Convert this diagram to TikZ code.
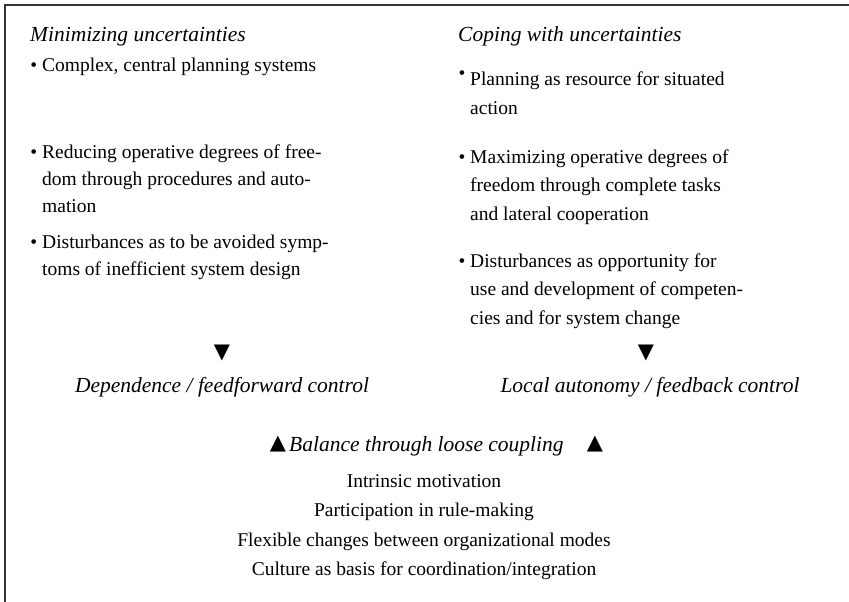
\documentclass[tikz,border=0pt]{standalone}
\usepackage{fontspec}
\setmainfont{Liberation Serif}
\newfontfamily\symfont{DejaVu Sans}
\begin{document}
\begin{tikzpicture}[x=1pt,y=-1pt,
  frame/.style={line width=2pt, draw=black!80},
  body/.style={inner sep=0pt, anchor=base west, align=left,
    font=\fontsize{19.5}{27}\selectfont},
  bodyr/.style={body, font=\fontsize{19.5}{28.5}\selectfont},
  head/.style={inner sep=0pt, anchor=base west,
    font=\fontsize{21.5}{26}\selectfont\itshape},
  outcome/.style={inner sep=0pt, anchor=base,
    font=\fontsize{21.5}{26}\selectfont\itshape},
  tri/.style={inner sep=0pt, anchor=center, font=\fontsize{21}{21}\symfont},
  factor/.style={inner sep=0pt, anchor=base,
    font=\fontsize{19.5}{29.5}\selectfont, align=center}]
\useasboundingbox (0,0) rectangle (849,602);

% open frame: top edge and left edge only
\coordinate (tl) at (5,5);
\coordinate (tr) at (849,5);
\coordinate (bl) at (5,602);
\draw[frame] (tr) -- (tl) -- (bl);

% left column (multi-line items are placed by the baseline of their last line)
\node[head] (lh) at (30,42) {Minimizing uncertainties};
\node[body] (l1) at (42,71) {\llap{\textbullet\ }Complex, central planning systems};
\node[body] (l2) at (42,212) {\llap{\textbullet\ }Reducing operative degrees of free-\\
  dom through procedures and auto-\\ mation};
\node[body] (l3) at (42,275) {\llap{\textbullet\ }Disturbances as to be avoided symp-\\
  toms of inefficient system design};

% right column
\node[head] (rh) at (458,42) {Coping with uncertainties};
\node[bodyr] (r1) at (470,114) {\llap{\raisebox{0.3em}{\textbullet}\ }Planning as resource for situated\\ action};
\node[bodyr] (r2) at (470,220) {\llap{\textbullet\ }Maximizing operative degrees of\\
  freedom through complete tasks\\ and lateral cooperation};
\node[bodyr] (r3) at (470,324) {\llap{\textbullet\ }Disturbances as opportunity for\\
  use and development of competen-\\ cies and for system change};

% consequences
\node[tri] (ld) at (222,353) {▼};
\node[tri] (rd) at (646,353) {▼};
\node[outcome] (lo) at (222,392) {Dependence / feedforward control};
\node[outcome] (ro) at (650,392) {Local autonomy / feedback control};

% balance
\node[tri] (bu1) at (278,444) {▲};
\node[head] (bal) at (289,451) {Balance through loose coupling};
\node[tri] (bu2) at (595,444) {▲};

% means of loose coupling
\node[factor] (f1) at (424,487) {Intrinsic motivation};
\node[factor] (f2) at (424,516) {Participation in rule-making};
\node[factor] (f3) at (424,546) {Flexible changes between organizational modes};
\node[factor] (f4) at (424,575) {Culture as basis for coordination/integration};
\end{tikzpicture}
\end{document}
